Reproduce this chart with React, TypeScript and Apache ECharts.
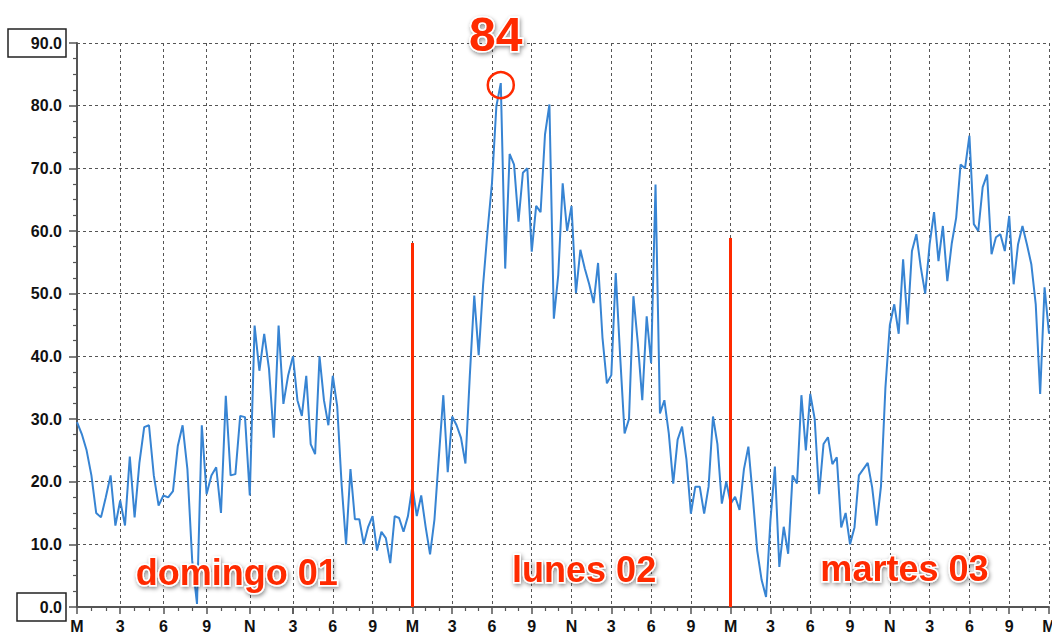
import React, { useEffect, useRef } from "react";
import * as echarts from "echarts";

// one sample every 20 minutes
const SAMPLE_STEP_HOURS = 1 / 3;

const domingo = [
  29.5, 27.6, 25, 21, 15, 14.3, 17.5, 21, 13, 17, 13, 24,
  14.3, 23, 28.7, 29, 21, 16.2, 17.8, 17.5, 18.5, 25.7, 29, 22,
  7.4, 0.5, 29, 18, 21, 22.3, 15, 33.7, 21, 21.2, 30.5, 30.3,
  17.8, 44.9, 37.7, 43.6, 38, 27, 44.9, 32.4, 37, 40, 33, 30.5,
  36.9, 26, 24.4, 40, 33, 29, 36.9, 32, 19.5, 10, 22, 14,
  14, 10, 12.8, 14.5, 9, 12, 11, 7, 14.5, 14.2, 12, 14.5,
];

const lunes = [
  19.3, 14.5, 17.8, 12.8, 8.4, 14, 24, 33.8, 21.5, 30.4, 29, 27,
  22.9, 37, 49.7, 40.2, 51.4, 60, 67.6, 79.9, 83.6, 54, 72.3, 70.6,
  61.5, 69.3, 70, 56.7, 64, 63, 75.4, 80.2, 46, 53, 67.6, 60,
  64, 50.1, 57, 54, 51.5, 48.5, 54.9, 43, 35.7, 37, 53.3, 40,
  27.7, 30, 49.6, 42.1, 33, 46.4, 38.9, 67.4, 30.9, 33, 27.7, 19.7,
  26.7, 28.8, 23.5, 14.9, 19.2, 19.2, 14.9, 19.2, 30.4, 26, 16.5, 20,
];

const martes = [
  16.5, 17.6, 15.5, 22, 25.6, 17.6, 9, 4.3, 1.6, 13.9, 22.4, 6.4,
  12.8, 8.5, 21, 19.7, 33.8, 25, 34, 30, 18, 26, 27.1, 22.8,
  23.9, 12.7, 15, 10, 12.7, 21, 22, 23, 19.1, 13, 19.3, 35,
  45, 48.3, 43.6, 55.5, 45.1, 56.8, 59.5, 54.2, 50, 57.9, 63, 55.2,
  60.8, 52, 58, 62.1, 70.6, 70, 75.2, 61.1, 60, 67, 69, 56.3,
  59, 59.5, 56.8, 62.4, 51.5, 57.9, 60.8, 57.9, 54.7, 48.3, 34, 51,
  43.6,
];

const Y_MIN = 0;
const Y_MAX = 90;
const Y_INTERVAL = 10;
const X_MIN = 0;
const X_BREAK = 15; // the reference's hour axis changes spacing here
const X_MAX = 72;
const X_INTERVAL = 3;

const dayMarkers = [
  { hour: 24, top: 58.1 },
  { hour: 48, top: 58.9 },
];

const dayTitles = [
  { text: "domingo 01", hour: 11.1, value: 5.5 },
  { text: "lunes 02", hour: 36.95, value: 6.0 },
  { text: "martes 03", hour: 61.1, value: 6.1 },
];

const RED = "#ff2a00";
const BLUE = "#3784d3";
const AXIS = "#555";
const FONT = "'Liberation Sans', Arial, sans-serif";

const hourLabel = (h: number) => {
  const hh = Math.round(h) % 24;
  if (hh === 0) return "M";
  if (hh === 12) return "N";
  return String(hh % 12);
};

const redText = {
  color: RED,
  fontFamily: FONT,
  fontWeight: "bold" as const,
  textBorderColor: "#fff",
  textBorderWidth: 3,
  textShadowColor: "rgba(0,0,0,0.45)",
  textShadowBlur: 4,
  textShadowOffsetX: 1,
  textShadowOffsetY: 2,
};

export default function App() {
  const ref = useRef<HTMLDivElement>(null);

  useEffect(() => {
    if (!ref.current) return;
    const chart = echarts.init(ref.current, null, { renderer: "svg" });

    const values = [...domingo, ...lunes, ...martes];
    const pts = values.map((v, i) => [i * SAMPLE_STEP_HOURS, v]);
    const breakIdx = Math.round(X_BREAK / SAMPLE_STEP_HOURS);
    const ptsA = pts.slice(0, breakIdx + 1);
    const ptsB = pts.slice(breakIdx);

    const labelBase = {
      fontFamily: FONT,
      fontWeight: "bold" as const,
      fontSize: 16,
      color: "#111",
    };

    const xAxisCommon = (min: number, max: number, gridIndex: number) => ({
      type: "value" as const,
      gridIndex,
      min,
      max,
      interval: X_INTERVAL,
      axisLine: { show: true, onZero: false, lineStyle: { color: AXIS, width: 2 } },
      axisTick: { show: true, length: 7, lineStyle: { color: AXIS, width: 1.5 } },
      minorTick: { show: true, splitNumber: 3, length: 4, lineStyle: { color: AXIS, width: 1.2 } },
      splitLine: { show: true, lineStyle: { color: AXIS, type: [3, 3] as any, width: 1 } },
      axisLabel: {
        ...labelBase,
        margin: 11,
        showMinLabel: gridIndex === 0,
        formatter: (v: number) => hourLabel(v),
      },
    });

    const yAxisCommon = (gridIndex: number, show: boolean) => ({
      type: "value" as const,
      gridIndex,
      min: Y_MIN,
      max: Y_MAX,
      interval: Y_INTERVAL,
      axisLine: { show, lineStyle: { color: AXIS, width: 2 } },
      axisTick: { show, length: 8, lineStyle: { color: AXIS, width: 1.5 } },
      minorTick: { show, splitNumber: 4, length: 4, lineStyle: { color: AXIS, width: 1.2 } },
      splitLine: { show: true, lineStyle: { color: AXIS, type: [3, 3] as any, width: 1 } },
      axisLabel: {
        show,
        margin: 11,
        formatter: (v: number) => {
          const t = v.toFixed(1);
          if (v === Y_MAX) return `{top|${t}}`;
          if (v === Y_MIN) return `{bot|${t}}`;
          return `{n|${t}}`;
        },
        rich: {
          n: { ...labelBase, padding: [0, 4, 0, 0] },
          top: {
            ...labelBase,
            width: 50,
            align: "right",
            padding: [6, 4, 6, 4],
            borderColor: "#222",
            borderWidth: 1.5,
          },
          bot: {
            ...labelBase,
            width: 41,
            align: "right",
            padding: [6, 4, 6, 4],
            borderColor: "#222",
            borderWidth: 1.5,
          },
        },
      },
    });

    const titlePoint = (t: { text: string; hour: number; value: number }) => ({
      name: t.text,
      coord: [t.hour, t.value],
      symbol: "circle",
      symbolSize: 0,
      label: {
        show: true,
        position: "inside",
        formatter: "{b}",
        fontSize: 36,
        ...redText,
      },
    });

    chart.setOption({
      animation: false,
      backgroundColor: "#fff",
      grid: [
        { left: 77, top: 43, width: 216, height: 564, outerBoundsMode: "none", containLabel: false },
        { left: 293, top: 43, width: 756, height: 564, outerBoundsMode: "none", containLabel: false },
      ],
      xAxis: [xAxisCommon(X_MIN, X_BREAK, 0), xAxisCommon(X_BREAK, X_MAX, 1)],
      yAxis: [yAxisCommon(0, true), yAxisCommon(1, false)],
      series: [
        {
          type: "line",
          xAxisIndex: 0,
          yAxisIndex: 0,
          data: ptsA,
          showSymbol: false,
          lineStyle: { color: BLUE, width: 2 },
          itemStyle: { color: BLUE },
          markPoint: {
            silent: true,
            data: dayTitles.filter((t) => t.hour < X_BREAK).map(titlePoint),
          },
        },
        {
          type: "line",
          xAxisIndex: 1,
          yAxisIndex: 1,
          data: ptsB,
          showSymbol: false,
          lineStyle: { color: BLUE, width: 2 },
          itemStyle: { color: BLUE },
          markLine: {
            silent: true,
            symbol: ["none", "none"],
            label: { show: false },
            lineStyle: { color: RED, width: 3, type: "solid" },
            data: dayMarkers.map((m) => [{ coord: [m.hour, Y_MIN] }, { coord: [m.hour, m.top] }]),
          },
          markPoint: {
            silent: true,
            data: [
              {
                type: "max",
                valueDim: "y",
                symbol: "circle",
                symbolSize: 26,
                symbolOffset: [0, 2],
                itemStyle: { color: "rgba(0,0,0,0)", borderColor: RED, borderWidth: 2.5 },
                label: {
                  show: true,
                  position: "top",
                  distance: 12,
                  offset: [-5, 0],
                  formatter: (p: any) => String(Math.round(p.value)),
                  fontSize: 48,
                  ...redText,
                },
              },
              ...dayTitles.filter((t) => t.hour >= X_BREAK).map(titlePoint),
            ],
          },
        },
      ],
    });

    return () => chart.dispose();
  }, []);

  return (
    <div
      ref={ref}
      style={{ position: "fixed", left: 0, top: 0, width: 1052, height: 635, background: "#fff" }}
    />
  );
}
